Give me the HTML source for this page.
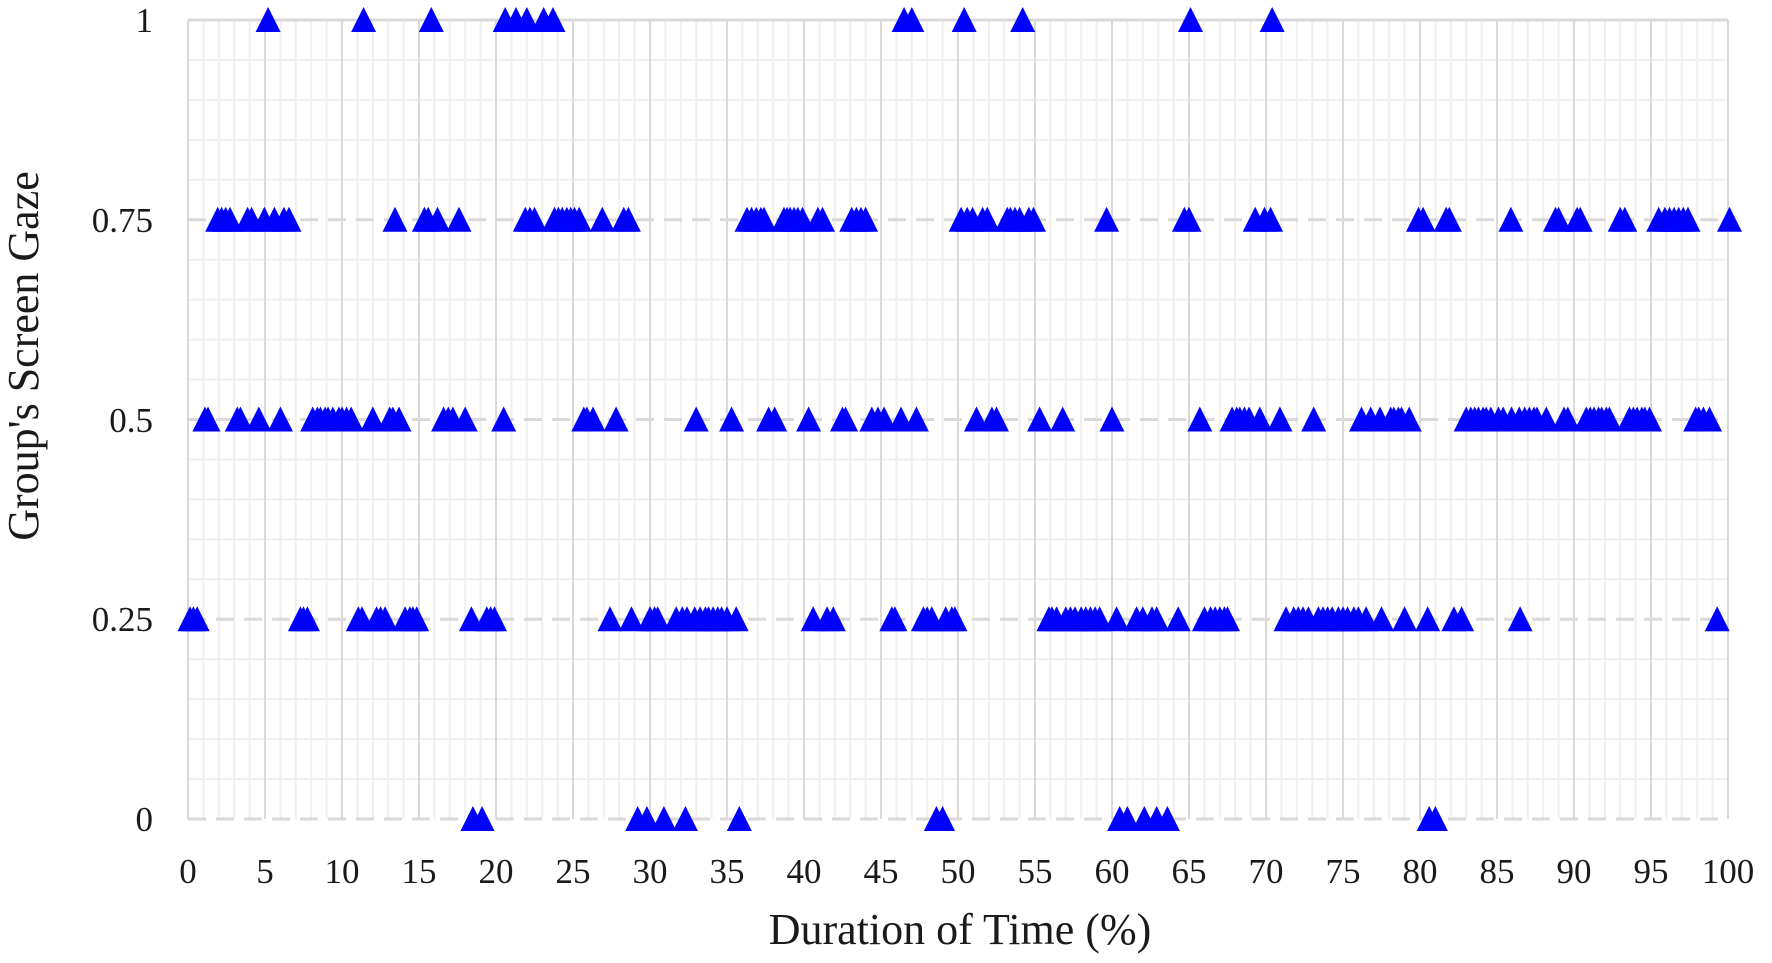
<!DOCTYPE html>
<html><head><meta charset="utf-8"><style>
html,body{margin:0;padding:0;background:#fff;}
svg text{font-family:"Liberation Serif",serif;fill:#1a1a1a;}
</style></head><body>
<svg id="c" width="1772" height="958" xmlns="http://www.w3.org/2000/svg">
<defs><polygon id="t" points="0,-13 12.5,12 -12.5,12" fill="#0000ff"/></defs>
<g id="grid"></g>
<g id="marks"></g>
<g font-size="35" text-anchor="end">
<text x="153" y="32">1</text>
<text x="153" y="232">0.75</text>
<text x="153" y="432">0.5</text>
<text x="153" y="631">0.25</text>
<text x="153" y="831">0</text>
</g>
<g id="xl" font-size="35" text-anchor="middle"></g>
<text x="960" y="944" font-size="44" text-anchor="middle">Duration of Time (%)</text>
<text transform="translate(38,356) rotate(-90)" font-size="44" text-anchor="middle">Group's Screen Gaze</text>
</svg>
<script>
var ns="http://www.w3.org/2000/svg";
function X(d){return 188+15.4*d;}
function Y(v){return 819-799*v;}
var g=document.getElementById('grid');
function line(x1,y1,x2,y2,c,w,dash){var l=document.createElementNS(ns,'line');l.setAttribute('x1',x1);l.setAttribute('y1',y1);l.setAttribute('x2',x2);l.setAttribute('y2',y2);l.setAttribute('stroke',c);l.setAttribute('stroke-width',w);if(dash)l.setAttribute('stroke-dasharray',dash);g.appendChild(l);}
for(var i=0;i<=20;i++){var v=i*0.05;if(i%5!=0)line(X(0),Y(v),X(100),Y(v),'#efefef',2);}
for(var i=0;i<=100;i++){if(i%5!=0)line(X(i),Y(0),X(i),Y(1),'#efefef',2);}
for(var i=0;i<=100;i+=5){line(X(i),Y(0),X(i),Y(1),'#d9d9d9',2);}
for(var i=0;i<=4;i++){var v=i*0.25;line(X(0),Y(v),X(100),Y(v),'#d9d9d9',3,i==4?null:'18,10');}
var xl=document.getElementById('xl');
for(var i=0;i<=100;i+=5){var t=document.createElementNS(ns,'text');t.setAttribute('x',X(i));t.setAttribute('y',883);t.textContent=i;xl.appendChild(t);}
var data={
1:[5.2,11.4,15.8,20.6,21.3,22.0,23.1,23.7,46.5,47.0,50.4,54.2,65.1,70.4],
0.75:[1.93,2.18,2.45,2.73,3.87,4.13,4.96,5.61,6.23,6.56,13.44,15.35,15.6,16.2,17.6,21.9,22.2,22.5,23.8,24.05,24.3,24.6,24.85,25.1,25.4,26.9,28.3,28.6,36.3,36.6,36.9,37.2,37.4,38.7,38.9,39.1,39.35,39.6,39.9,40.9,41.2,43.1,43.4,43.7,44.0,50.2,50.6,50.95,51.6,51.9,53.2,53.4,53.7,54.0,54.6,54.9,59.65,64.7,65.0,69.3,69.9,70.3,79.9,80.2,81.7,81.9,85.9,88.8,89.0,90.2,90.4,93.0,93.3,95.5,95.9,96.2,96.5,96.8,97.1,97.4,100.1],
0.5:[1.1,1.3,3.2,3.4,4.6,6.0,8.1,8.4,8.6,8.9,9.1,9.4,9.8,10.0,10.3,10.6,12.0,13.1,13.3,13.7,16.6,16.9,17.2,18.0,20.5,25.7,25.9,26.3,27.8,33.0,35.3,37.7,38.1,40.3,42.5,42.7,44.4,44.8,45.2,46.3,47.3,51.2,52.2,52.5,55.3,56.8,60.0,65.7,67.8,68.1,68.3,68.6,68.9,69.6,70.9,73.1,76.2,76.8,77.4,78.1,78.3,78.6,78.8,79.3,83.0,83.3,83.55,83.8,84.1,84.3,84.6,85.1,85.4,85.95,86.45,86.8,87.1,87.4,87.6,88.2,89.35,89.6,90.8,91.05,91.3,91.6,91.8,92.1,92.3,93.6,93.85,94.1,94.4,94.6,94.9,97.9,98.1,98.4,98.8],
0.25:[0.13,0.35,0.6,7.3,7.5,7.75,11.06,11.3,12.25,12.5,12.8,14.1,14.4,14.6,14.85,18.4,19.4,19.65,19.9,27.4,28.8,30.0,30.3,30.5,31.7,32.1,32.4,32.9,33.25,33.6,33.8,34.1,34.4,34.65,35.0,35.6,40.6,41.5,41.9,45.7,45.9,47.75,48.0,48.3,49.2,49.6,49.8,55.9,56.1,56.4,57.0,57.3,57.6,58.0,58.3,58.6,58.9,59.2,60.3,61.6,62.0,62.6,62.9,64.3,66.0,66.4,66.7,67.0,67.3,67.5,71.3,71.8,72.1,72.4,72.75,73.4,73.7,74.0,74.3,74.7,75.0,75.3,75.7,76.0,76.5,77.5,79.0,80.5,82.2,82.7,86.5,99.3],
0:[18.5,19.1,29.2,29.8,30.9,32.3,35.8,48.6,49.0,60.5,61.0,62.1,62.9,63.6,80.6,81.0]
};
var m=document.getElementById('marks');
for(var k in data){data[k].forEach(function(d){var u=document.createElementNS(ns,'use');u.setAttribute('href','#t');u.setAttribute('x',X(d).toFixed(1));u.setAttribute('y',Y(parseFloat(k)).toFixed(1));m.appendChild(u);});}
</script>
</body></html>
